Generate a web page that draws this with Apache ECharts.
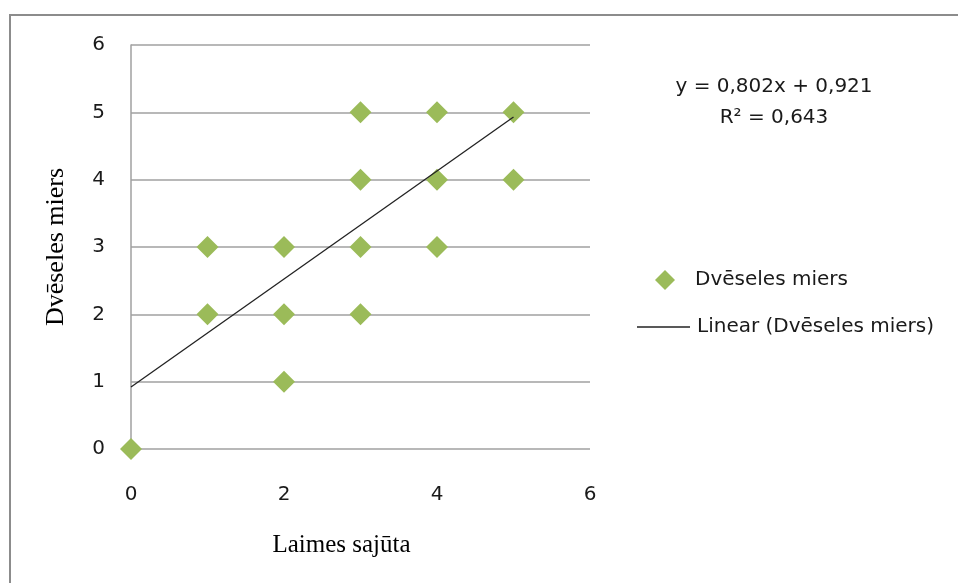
<!DOCTYPE html>
<html>
<head>
<meta charset="utf-8">
<title>Dvēseles miers / Laimes sajūta</title>
<script src="https://cdn.jsdelivr.net/npm/echarts@6/dist/echarts.min.js"></script>
<style>
  html, body { margin: 0; padding: 0; background: #fff; }
  #chart { width: 958px; height: 583px; }
</style>
</head>
<body>
<div id="chart"></div>
<script>
// Survey responses: happiness (x) against peace of mind (y)
const laimesSajuta   = [0, 1, 1, 2, 2, 2, 3, 3, 3, 3, 4, 4, 4, 5, 5];
const dveselesMiers  = [0, 3, 2, 3, 2, 1, 5, 4, 3, 2, 5, 4, 3, 5, 4];

// Linear trendline coefficients (as printed on the chart)
const trendSlope = 0.802;
const trendIntercept = 0.921;
const trendR2 = 0.643;
const trendRange = [0, 5];

const xTicks = [0, 2, 4, 6];
const yTicks = [0, 1, 2, 3, 4, 5, 6];

const seriesName = 'Dvēseles miers';
const trendName = 'Linear (Dvēseles miers)';

const fmt = v => v.toFixed(3).replace('.', ',');

const points = laimesSajuta.map((x, i) => [x, dveselesMiers[i]]);
const trendPoints = trendRange.map(x => [x, trendSlope * x + trendIntercept]);

const sans = 'DejaVu Sans';
const serif = 'Liberation Serif';
const textColor = '#1a1a1a';
const markerColor = '#9bbb59';
const trendColor = '#222222';

const chart = echarts.init(document.getElementById('chart'), null, { renderer: 'canvas' });

chart.setOption({
  animation: false,
  backgroundColor: '#ffffff',
  grid: { left: 131, right: 368, top: 45, bottom: 134, containLabel: false },
  xAxis: {
    type: 'value',
    min: xTicks[0],
    max: xTicks[xTicks.length - 1],
    interval: xTicks[1] - xTicks[0],
    name: 'Laimes sajūta',
    nameLocation: 'middle',
    nameGap: 84,
    nameTextStyle: { fontFamily: serif, fontSize: 25, color: '#000', padding: [0, 38, 0, 0] },
    axisLine: { show: false },
    axisTick: { show: false },
    splitLine: { show: false },
    axisLabel: { margin: 36, fontFamily: sans, fontSize: 20, color: textColor }
  },
  yAxis: {
    type: 'value',
    min: yTicks[0],
    max: yTicks[yTicks.length - 1],
    interval: 1,
    name: 'Dvēseles miers',
    nameLocation: 'middle',
    nameGap: 62,
    nameRotate: 90,
    nameTextStyle: { fontFamily: serif, fontSize: 26, color: '#000' },
    axisLine: { show: true, lineStyle: { color: '#a0a0a0', width: 1.5 } },
    axisTick: { show: false },
    splitLine: { show: true, lineStyle: { color: '#a0a0a0', width: 1.5 } },
    axisLabel: { margin: 26, fontFamily: sans, fontSize: 20, color: textColor }
  },
  legend: [
    {
      data: [{ name: seriesName, icon: 'diamond' }],
      left: 655,
      top: 270,
      padding: 0,
      itemWidth: 20,
      itemHeight: 20,
      itemGap: 0,
      itemStyle: { color: markerColor, opacity: 1 },
      textStyle: { fontFamily: sans, fontSize: 20, color: textColor, padding: [0, 0, 0, 15] }
    },
    {
      data: [{ name: trendName, icon: 'rect' }],
      left: 637,
      top: 317,
      padding: 0,
      itemWidth: 53,
      itemHeight: 1.4,
      itemStyle: { color: trendColor },
      textStyle: { fontFamily: sans, fontSize: 20, color: textColor, padding: [0, 0, 0, 2] }
    }
  ],
  graphic: [
    {
      type: 'rect',
      shape: { x: 10, y: 15, width: 1000, height: 700 },
      style: { fill: 'none', stroke: '#8c8c8c', lineWidth: 2 },
      silent: true,
      z: -1
    },
    {
      type: 'text',
      x: 774,
      y: 87,
      style: {
        text: 'y = ' + fmt(trendSlope) + 'x + ' + fmt(trendIntercept),
        fontFamily: sans, fontSize: 20, fill: textColor,
        textAlign: 'center', textVerticalAlign: 'middle'
      }
    },
    {
      type: 'text',
      x: 774,
      y: 118,
      style: {
        text: 'R² = ' + fmt(trendR2),
        fontFamily: sans, fontSize: 20, fill: textColor,
        textAlign: 'center', textVerticalAlign: 'middle'
      }
    }
  ],
  series: [
    {
      name: seriesName,
      type: 'scatter',
      data: points,
      symbol: 'diamond',
      symbolSize: 22,
      itemStyle: { color: markerColor, opacity: 1 },
      z: 2
    },
    {
      name: trendName,
      type: 'line',
      data: trendPoints,
      symbol: 'none',
      showSymbol: false,
      lineStyle: { color: trendColor, width: 1.3 },
      itemStyle: { color: trendColor },
      z: 3
    }
  ]
});
</script>
</body>
</html>
